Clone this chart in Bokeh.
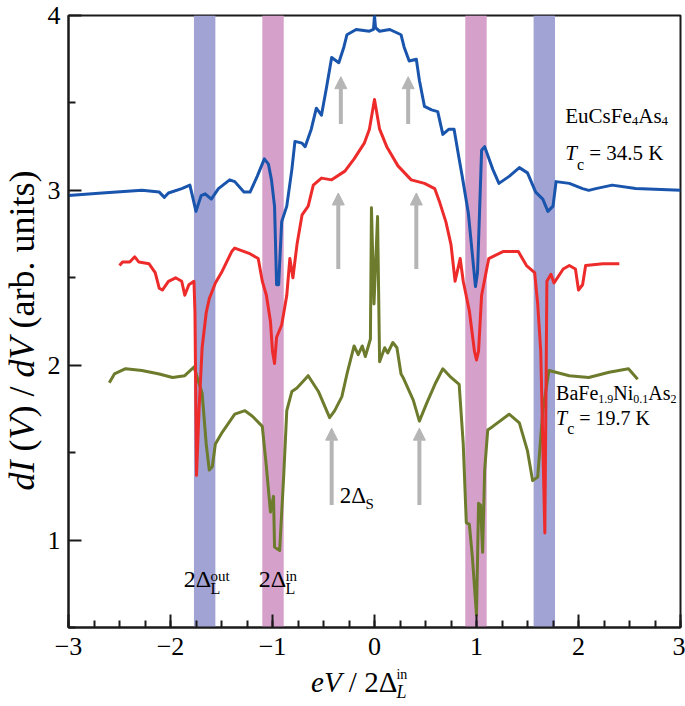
import math
from bokeh.plotting import figure
from bokeh.layouts import row, column
from bokeh.models import Range1d, FixedTicker, Label, Arrow, NormalHead, BoxAnnotation, ColumnDataSource
from bokeh.embed import file_html
from bokeh.resources import INLINE

FONT = "Liberation Serif"

# ---------------- data ----------------
x_ticks = [-3, -2, -1, 0, 1, 2, 3]
x_minor = [-3 + 0.25 * k for k in range(25)]
y_ticks = [1, 2, 3, 4]
y_minor = [0.5, 1.5, 2.5, 3.5]
x_tick_labels = {-3: "\u22123", -2: "\u22122", -1: "\u22121", 0: "0", 1: "1", 2: "2", 3: "3"}

# EuCsFe4As4 (blue)
blue_x = [-3.0, -2.67, -2.28, -2.11, -2.06, -2.02, -1.89, -1.81, -1.77, -1.75, -1.70, -1.66, -1.60,
          -1.53, -1.42, -1.37, -1.28, -1.22, -1.15, -1.08, -1.04, -1.01, -0.98, -0.96, -0.94, -0.91,
          -0.86, -0.81, -0.78, -0.71, -0.68, -0.62, -0.57, -0.52, -0.47, -0.42, -0.35, -0.30, -0.27,
          -0.18, -0.05, -0.01, 0.0, 0.01, 0.05, 0.15, 0.26, 0.29, 0.34, 0.41, 0.44, 0.49, 0.56, 0.62,
          0.67, 0.73, 0.78, 0.83, 0.86, 0.92, 0.97, 0.99, 1.01, 1.05, 1.08, 1.16, 1.22, 1.32, 1.42,
          1.50, 1.58, 1.65, 1.70, 1.75, 1.78, 1.91, 2.04, 2.10, 2.17, 2.33, 2.56, 3.0]
blue_y = [2.97, 2.985, 3.0, 2.99, 2.96, 2.985, 3.01, 3.03, 2.93, 2.88, 2.97, 2.98, 2.95,
          3.01, 3.06, 3.05, 2.99, 2.99, 3.08, 3.18, 3.15, 3.06, 2.91, 2.46, 2.46, 2.82,
          2.91, 3.12, 3.28, 3.27, 3.25, 3.35, 3.47, 3.43, 3.59, 3.76, 3.73, 3.82, 3.89,
          3.92, 3.91, 3.92, 4.0, 3.93, 3.91, 3.92, 3.89, 3.82, 3.74, 3.75, 3.63, 3.48, 3.46, 3.45,
          3.32, 3.35, 3.35, 3.18, 3.08, 2.87, 2.57, 2.45, 2.53, 3.23, 3.25, 3.12, 3.04, 3.08, 3.13,
          3.10, 2.99, 2.95, 2.88, 2.91, 3.05, 3.04, 3.01, 3.0, 3.01, 3.03, 3.01, 3.0]

# BaFe1.9Ni0.1As2 (red)
red_x = [-2.50, -2.47, -2.40, -2.35, -2.31, -2.21, -2.15, -2.11, -2.08, -2.02, -1.95, -1.89, -1.86,
         -1.82, -1.77, -1.76, -1.745, -1.72, -1.69, -1.65, -1.62, -1.56, -1.50, -1.40, -1.37, -1.23,
         -1.14, -1.10, -1.06, -1.02, -1.00, -0.98, -0.96, -0.91, -0.86, -0.83, -0.80, -0.76, -0.71,
         -0.65, -0.60, -0.52, -0.42, -0.29, -0.20, -0.10, -0.05, 0.0, 0.05, 0.12, 0.23, 0.36, 0.49,
         0.59, 0.64, 0.70, 0.75, 0.79, 0.84, 0.87, 0.93, 0.98, 1.00, 1.02, 1.05, 1.12, 1.26, 1.41,
         1.49, 1.57, 1.60, 1.63, 1.67, 1.69, 1.73, 1.76, 1.85, 1.91, 1.97, 2.00, 2.04, 2.07, 2.24, 2.40]
red_y = [2.57, 2.59, 2.59, 2.62, 2.59, 2.58, 2.53, 2.44, 2.43, 2.48, 2.50, 2.48, 2.40,
         2.46, 2.48, 2.30, 1.37, 1.75, 2.10, 2.30, 2.38, 2.47, 2.53, 2.65, 2.67, 2.64,
         2.61, 2.48, 2.40, 2.25, 2.08, 2.01, 2.16, 2.23, 2.40, 2.61, 2.50, 2.69, 2.86,
         2.91, 3.03, 3.07, 3.06, 3.11, 3.18, 3.27, 3.35, 3.52, 3.35, 3.25, 3.14, 3.06, 3.04,
         3.01, 2.93, 2.82, 2.69, 2.48, 2.61, 2.48, 2.31, 2.08, 2.03, 2.08, 2.40, 2.61, 2.65, 2.65,
         2.57, 2.53, 2.35, 2.08, 1.04, 2.48, 2.52, 2.47, 2.55, 2.57, 2.55, 2.43, 2.46, 2.57, 2.58, 2.58]

# reference curve (green)
green_x = [-2.60, -2.55, -2.44, -2.28, -2.11, -1.98, -1.86, -1.77, -1.69, -1.65, -1.62, -1.59,
           -1.56, -1.50, -1.37, -1.27, -1.20, -1.10, -1.06, -1.02, -0.99, -0.98, -0.93, -0.89,
           -0.86, -0.81, -0.76, -0.65, -0.55, -0.44, -0.39, -0.32, -0.27, -0.20, -0.16, -0.12,
           -0.09, -0.06, -0.04, -0.03, -0.005, 0.03, 0.05, 0.10, 0.13, 0.18, 0.22, 0.26, 0.28,
           0.38, 0.44, 0.51, 0.60, 0.67, 0.75, 0.83, 0.87, 0.90, 0.93, 0.96, 1.00, 1.02, 1.04,
           1.06, 1.08, 1.11, 1.16, 1.32, 1.42, 1.50, 1.55, 1.60, 1.65, 1.71, 1.91, 2.10, 2.30,
           2.49, 2.58]
green_y = [1.90, 1.95, 1.98, 1.97, 1.95, 1.93, 1.94, 1.99, 1.84, 1.55, 1.40, 1.42,
           1.55, 1.61, 1.72, 1.74, 1.71, 1.65, 1.42, 1.16, 1.25, 0.96, 0.94, 1.37,
           1.74, 1.85, 1.87, 1.94, 1.85, 1.70, 1.74, 1.82, 1.95, 2.11, 2.06, 2.11,
           2.05, 2.11, 2.15, 2.90, 2.35, 2.85, 2.02, 2.10, 2.07, 2.13, 2.10, 1.95, 1.93,
           1.80, 1.68, 1.78, 1.90, 1.98, 1.93, 1.89, 1.55, 1.10, 1.09, 0.90, 0.57, 1.21, 1.20,
           0.93, 1.40, 1.63, 1.65, 1.72, 1.67, 1.51, 1.34, 1.36, 1.74, 1.97, 1.94, 1.93, 1.96,
           1.98, 1.92]

# gap bands
band_left = [-1.77, -1.10, 0.89, 1.56]
band_right = [-1.56, -0.89, 1.10, 1.77]
band_color = ["#a0a3d3", "#d5a1cb", "#d5a1cb", "#a0a3d3"]

# grey arrows (position, tail, tip)
arrow_x = [-0.33, 0.33, -0.355, 0.41, -0.42, 0.44]
arrow_tail = [3.38, 3.38, 2.55, 2.55, 1.20, 1.20]
arrow_tip = [3.65, 3.65, 2.985, 2.985, 1.64, 1.64]

BLUE = "#1a55ad"
RED = "#ee2b2b"
GREEN = "#6d7b2c"
GREY = "#b5b5b5"

# ---------------- rich text helper ----------------
WR = {' ': 250, '.': 250, '=': 564, '(': 333, ')': 333, '/': 278, '\u2212': 564,
      'A': 722, 'B': 667, 'C': 667, 'E': 611, 'F': 556, 'K': 722, 'L': 611, 'N': 722,
      'S': 556, 'T': 611, 'V': 722, 'a': 444, 'b': 500, 'c': 444, 'd': 500, 'e': 444,
      'i': 278, 'n': 500, 'o': 500, 'r': 333, 's': 389, 't': 278, 'u': 500, '\u0394': 612}
WI = {'d': 500, 'I': 333, 'V': 611, 'T': 556, 'L': 556, 'e': 444, 'c': 444}
BASE_FIX = 0.40   # compensates the renderer's baseline placement (fraction of font size)


def tw(s, size, italic):
    tab = WI if italic else WR
    return sum(tab.get(ch, WR.get(ch, 500)) for ch in s) / 1000.0 * size


def seg_total(segs):
    return sum(tw(t, sz, it) for t, sz, sh, it, adv in segs if adv)


def rich(fig, x, y, segs, angle=0.0, dx=0.0, dy=0.0):
    pos = 0.0
    ca, sa = math.cos(angle), math.sin(angle)
    for text, size, shift, italic, adv in segs:
        stripped = text.lstrip(" ")
        lead = tw(text[:len(text) - len(stripped)], size, italic)
        up = shift + BASE_FIX * size
        ox = dx + (pos + lead) * ca - up * sa
        oy = dy + (pos + lead) * sa + up * ca
        fig.add_layout(Label(x=x, y=y, text=stripped.rstrip(" "), x_offset=ox, y_offset=oy,
                             angle=angle, text_font=FONT, text_font_size=f"{size}px",
                             text_font_style="italic" if italic else "normal",
                             text_baseline="alphabetic", text_align="left", text_color="black"))
        if adv:
            pos += tw(text, size, italic)


def blank(width, height, xr, yr):
    f = figure(width=width, height=height, x_range=xr, y_range=yr, output_backend="svg",
               toolbar_location=None, x_axis_location=None, y_axis_location=None,
               min_border_left=0, min_border_right=0, min_border_top=0, min_border_bottom=0)
    f.grid.visible = False
    f.outline_line_color = None
    f.background_fill_color = "white"
    f.border_fill_color = "white"
    return f


# ---------------- main figure ----------------
p = figure(width=641, height=666, x_range=Range1d(-3, 3), y_range=Range1d(0.5, 4),
           output_backend="svg", toolbar_location=None,
           min_border_left=23, min_border_right=5, min_border_top=15, min_border_bottom=39)
p.grid.visible = False
p.background_fill_color = "white"
p.border_fill_color = "white"
p.outline_line_color = "#1a1a1a"
p.outline_line_width = 2

p.xaxis.ticker = FixedTicker(ticks=x_ticks, minor_ticks=x_minor)
p.yaxis.ticker = FixedTicker(ticks=y_ticks, minor_ticks=y_minor)
p.xaxis.major_label_overrides = x_tick_labels
for ax in (p.xaxis[0], p.yaxis[0]):
    ax.axis_line_width = 2
    ax.axis_line_color = "#1a1a1a"
    ax.major_tick_in = 13
    ax.major_tick_out = 0
    ax.minor_tick_in = 7
    ax.minor_tick_out = 0
    ax.major_tick_line_width = 2
    ax.minor_tick_line_width = 2
    ax.major_tick_line_color = "#1a1a1a"
    ax.minor_tick_line_color = "#1a1a1a"
    ax.major_label_text_font = FONT
    ax.major_label_text_font_size = "26px"
    ax.major_label_text_color = "black"
p.xaxis.major_label_standoff = 10
p.yaxis.major_label_standoff = 8

for l, r, c in zip(band_left, band_right, band_color):
    p.add_layout(BoxAnnotation(left=l, right=r, fill_color=c, fill_alpha=1.0,
                               line_color=None, level="underlay"))

p.line(green_x, green_y, line_color=GREEN, line_width=3, line_join="round")
p.line(red_x, red_y, line_color=RED, line_width=3, line_join="round")
p.line(blue_x, blue_y, line_color=BLUE, line_width=3, line_join="round")

asrc = ColumnDataSource(dict(x=arrow_x, y0=arrow_tail, y1=arrow_tip))
p.add_layout(Arrow(end=NormalHead(size=12, fill_color=GREY, line_color=GREY, line_width=1),
                   x_start="x", y_start="y0", x_end="x", y_end="y1", source=asrc,
                   line_color=GREY, line_width=4))

# material labels
rich(p, 1.87, 3.377, [("EuCsFe", 21, 0, False, True), ("4", 13, -2, False, True),
                      ("As", 21, 0, False, True), ("4", 13, -2, False, True)])
rich(p, 1.87, 3.167, [("T", 21, 0, True, True), ("c", 16, -10, False, True),
                      (" = 34.5 K", 21, 0, False, True)])
rich(p, 1.78, 1.796, [("BaFe", 20, 0, False, True), ("1.9", 12, -3, False, True),
                      ("Ni", 20, 0, False, True), ("0.1", 12, -3, False, True),
                      ("As", 20, 0, False, True), ("2", 12, -3, False, True)])
rich(p, 1.78, 1.654, [("T", 20, 0, True, True), ("c", 16, -9, False, True),
                      (" = 19.7 K", 20, 0, False, True)])

# gap labels
rich(p, -1.87, 0.72, [("2\u0394", 24, 0, False, True), ("L", 16, -6, False, False),
                      ("out", 15, 7, False, True)])
rich(p, -1.135, 0.72, [("2\u0394", 24, 0, False, True), ("L", 16, -6, False, False),
                       ("in", 15, 7, False, True)])
rich(p, -0.34, 1.20, [("2\u0394", 23, 0, False, True), ("S", 15, -5, False, True)])

# ---------------- axis title strips (page pixel coordinates) ----------------
ylab = blank(44, 706, Range1d(0, 44), Range1d(706, 0))
ysegs = [("dI", 36, 0, True, True), (" (", 36, 0, False, True), ("V", 36, 0, True, True),
         (") / ", 36, 0, False, True), ("dV", 36, 0, True, True),
         (" (arb. units)", 36, 0, False, True)]
rich(ylab, 36, 330, ysegs, angle=math.pi / 2, dy=-seg_total(ysegs) / 2)

xlab = blank(641, 40, Range1d(44, 685), Range1d(706, 666))
rich(xlab, 298, 693, [("eV", 29, 0, True, True), (" / 2\u0394", 29, 0, False, True),
                      ("L", 18, -6, True, False), ("in", 14, 13, False, True)])

layout = row(ylab, column(p, xlab, spacing=0), spacing=0)
open("out.html", "w").write(file_html(layout, INLINE))
